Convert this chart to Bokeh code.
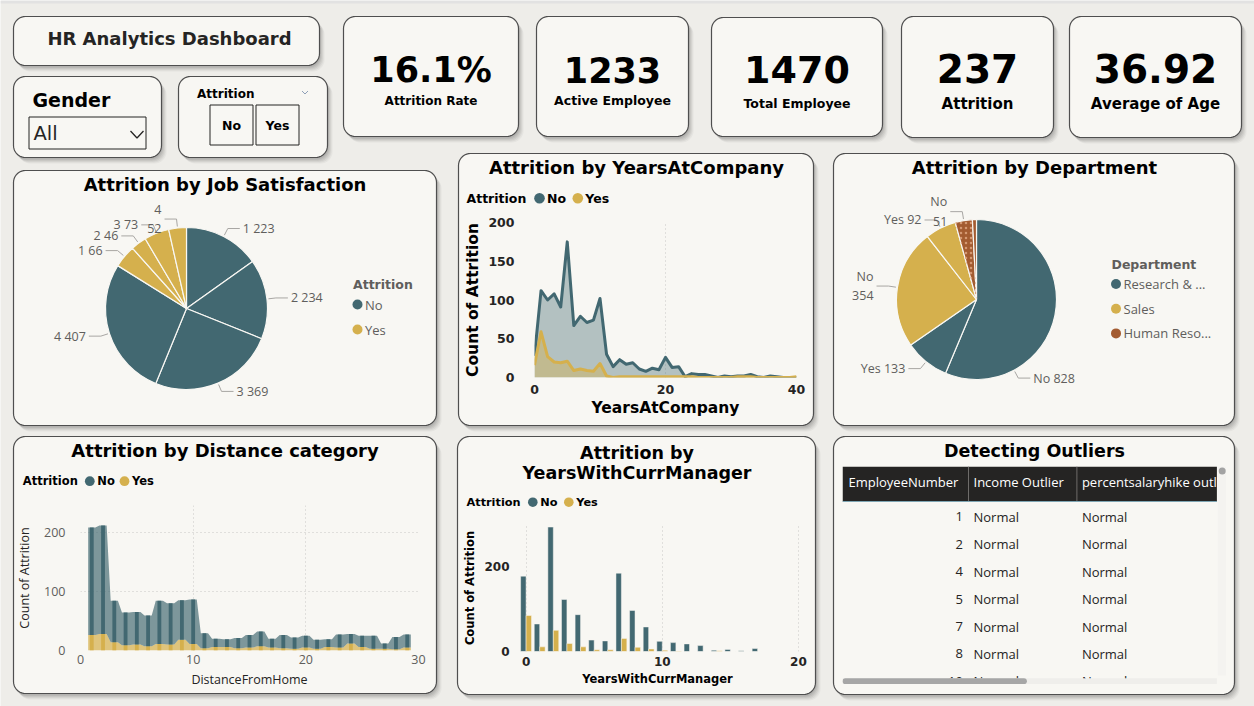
import math
from bokeh.plotting import figure
from bokeh.models import Range1d, ColumnDataSource
from bokeh.layouts import column
from bokeh.core.properties import value
from bokeh.transform import dodge
from bokeh.embed import file_html
from bokeh.resources import INLINE

W, H = 1254, 706
PAGE = "#EEEDE9"
CARD = "#F8F7F3"
EDGE = "#4F4F4F"
INK = "#252423"
GRAY = "#605E5C"
LEADER = "#A8A6A3"
TEAL = "#426871"
GOLD = "#D5B04D"
BROWN = "#A35B30"
GRID = "#C8C6C4"
SANS = "DejaVu Sans"
UI = "Open Sans"

# ---------------- data ----------------
kpi_values = ["16.1%", "1233", "1470", "237", "36.92"]
kpi_labels = ["Attrition Rate", "Active Employee", "Total Employee", "Attrition", "Average of Age"]

job_levels = ["1", "2", "3", "4"]
job_no = [223, 234, 369, 407]
job_yes = [66, 46, 73, 52]

dept_names = ["Research & Development", "Sales", "Human Resources"]
dept_short = ["Research & ...", "Sales", "Human Reso..."]
dept_no = [828, 354, 51]
dept_yes = [133, 92, 12]

yac_years = list(range(0, 41))
yac_no = [28, 112, 100, 108, 91, 175, 67, 79, 71, 74, 102, 30, 14, 23, 17, 19, 11, 8, 12, 10,
          26, 13, 14, 1, 5, 4, 4, 2, 0, 2, 1, 2, 2, 4, 1, 0, 2, 1, 0, 0, 0]
yac_yes = [16, 59, 27, 20, 19, 21, 9, 11, 9, 8, 18, 2, 0, 1, 1, 1, 1, 1, 1, 1,
           1, 1, 1, 1, 1, 0, 0, 0, 0, 0, 0, 1, 1, 1, 0, 0, 0, 0, 0, 0, 1]

distance = list(range(1, 30))
dist_yes = [26, 28, 14, 9, 10, 7, 11, 10, 18, 11, 4, 6, 6, 4, 5, 7, 5, 4, 3, 5,
            3, 6, 5, 12, 6, 3, 3, 2, 5]
dist_no = [182, 183, 70, 55, 55, 52, 73, 70, 67, 75, 25, 14, 13, 17, 21, 25, 15, 22, 19, 20,
           15, 13, 22, 16, 19, 22, 9, 21, 22]

mgr_years = list(range(0, 18))
mgr_no = [178, 65, 294, 123, 87, 27, 25, 185, 97, 58, 24, 21, 18, 14, 3, 5, 2, 7]
mgr_yes = [85, 11, 50, 19, 11, 4, 4, 31, 10, 6, 3, 1, 0, 0, 2, 0, 0, 0]

table_headers = ["EmployeeNumber", "Income Outlier", "percentsalaryhike outlier"]
emp_numbers = [1, 2, 4, 5, 7, 8, 10]
income_outlier = ["Normal"] * 7
hike_outlier = ["Normal"] * 7


# ---------------- helpers ----------------
def rrect(x0, y0, x1, y1, r=12, n=10):
    xs, ys = [], []
    for cx, cy, a0 in ((x1 - r, y0 + r, -90), (x1 - r, y1 - r, 0),
                       (x0 + r, y1 - r, 90), (x0 + r, y0 + r, 180)):
        for k in range(n + 1):
            a = math.radians(a0 + 90 * k / n)
            xs.append(cx + r * math.cos(a))
            ys.append(cy + r * math.sin(a))
    return xs, ys


def placed(x0, y0, w, h, **kw):
    p = figure(width=w, height=h, output_backend="svg", toolbar_location=None,
               background_fill_alpha=0, border_fill_alpha=0, outline_line_color=None,
               styles={"position": "absolute", "left": f"{x0}px", "top": f"{y0}px"}, **kw)
    p.frame_align = False
    return p


# ---------------- background page with cards ----------------
bg = figure(width=W, height=H, x_range=Range1d(0, W), y_range=Range1d(H, 0),
            x_axis_type=None, y_axis_type=None, output_backend="svg", toolbar_location=None,
            min_border=0, outline_line_color=None, background_fill_color=PAGE,
            border_fill_color=PAGE,
            styles={"position": "absolute", "left": "0px", "top": "0px"})
bg.frame_align = False
bg.quad(left=0, right=W, top=0, bottom=3, fill_color="#E2E2E2", line_color=None)


def txt(x, y, s, size, bold=False, color=INK, align="center", font=SANS):
    bg.text(x=[x], y=[y], text=[s], text_font=value(font), text_font_size=f"{size}px",
            text_font_style="bold" if bold else "normal", text_color=color,
            text_align=align, text_baseline="middle")


cards = [
    (13, 16, 319, 65), (13, 76, 161, 157), (178, 76, 327, 157),
    (343, 16, 518, 136), (536, 16, 688, 136), (711, 17, 882, 136),
    (901, 16, 1053, 137), (1069, 16, 1241, 137),
    (13, 170, 436, 425), (458, 153, 813, 425), (833, 153, 1234, 425),
    (13, 436, 436, 693), (457, 436, 815, 694), (833, 436, 1234, 694),
]
for (x0, y0, x1, y1) in cards:
    for dx, dy, a in ((5, 6, 0.07), (4, 5, 0.09), (3, 4, 0.11), (2, 3, 0.13), (1, 2, 0.15)):
        xs, ys = rrect(x0 + dx, y0 + dy, x1 + dx, y1 + dy)
        bg.patch(xs, ys, fill_color="#6E6E6E", fill_alpha=a, line_color=None)
for (x0, y0, x1, y1) in cards:
    xs, ys = rrect(x0, y0, x1, y1)
    bg.patch(xs, ys, fill_color=CARD, line_color=EDGE, line_width=1.2)

# title and slicers
txt(169, 37.5, "HR Analytics Dashboard", 18, bold=True)
txt(32, 99.2, "Gender", 19, bold=True, color="#000000", align="left")
bg.quad(left=28.5, right=145.5, top=116.5, bottom=148.5, fill_color=None, line_color=INK, line_width=1)
txt(33, 133.4, "All", 19.5, align="left")
bg.line([130, 136.5, 143], [130.5, 137.5, 130.5], line_color=INK, line_width=1.3)
txt(196.5, 93.7, "Attrition", 12, bold=True, color="#000000", align="left")
bg.line([301.5, 304.5, 307.5], [90.5, 93.5, 90.5], line_color="#8FA0B8", line_width=1)
for bx0, bx1, s in ((209.5, 252.5, "No"), (255.5, 298.5, "Yes")):
    bg.quad(left=bx0, right=bx1, top=104.5, bottom=144.5, fill_color=None, line_color=INK, line_width=1)
    txt((bx0 + bx1) / 2, 124.7, s, 12.5, bold=True, color="#000000")

# KPI cards
kpi_boxes = cards[3:8]
kpi_num_size = [35, 35, 38, 39, 39]
kpi_num_mid = [69.5, 69.5, 69.2, 68, 68]
kpi_lab_size = [12, 12.5, 12.5, 15, 15]
kpi_lab_mid = [100, 100, 103.3, 103, 103]
for i, (x0, y0, x1, y1) in enumerate(kpi_boxes):
    cx = (x0 + x1) / 2
    txt(cx, kpi_num_mid[i], kpi_values[i], kpi_num_size[i], bold=True, color="#000000")
    txt(cx, kpi_lab_mid[i], kpi_labels[i], kpi_lab_size[i], bold=True, color="#000000")

# chart titles
txt(224.5, 184.3, "Attrition by Job Satisfaction", 18, bold=True, color="#000000")
txt(1034, 167, "Attrition by Department", 18, bold=True, color="#000000")
txt(636, 167, "Attrition by YearsAtCompany", 18, bold=True, color="#000000")
txt(224.5, 450.3, "Attrition by Distance category", 18, bold=True, color="#000000")
txt(636.5, 452.3, "Attrition by", 17.5, bold=True, color="#000000")
txt(636.5, 472.7, "YearsWithCurrManager", 17.5, bold=True, color="#000000")
txt(1034, 450, "Detecting Outliers", 17.5, bold=True, color="#000000")


# legends
def vlegend(x, y0, title, names, colors, first, step):
    txt(x, y0, title, 12.5, bold=True, color=GRAY, align="left")
    ys = [y0 + first + step * k for k in range(len(names))]
    bg.scatter(x=[x + 4.5] * len(names), y=ys, size=10, fill_color=colors, line_color=None)
    bg.text(x=[x + 12] * len(names), y=ys, text=names, text_font=value(UI), text_font_size="13px",
            text_color=GRAY, text_align="left", text_baseline="middle")


def hlegend(x, y, size, dots, gaps):
    txt(x, y, "Attrition", size, bold=True, color="#000000", align="left")
    for (dx, col, name) in zip(dots, (TEAL, GOLD), ("No", "Yes")):
        bg.scatter(x=[dx], y=[y], size=size * 0.85, fill_color=col, line_color=None)
        txt(dx + gaps, y, name, size, bold=True, color="#000000", align="left")


vlegend(352.5, 284, "Attrition", ["No", "Yes"], [TEAL, GOLD], 20, 25)
vlegend(1111, 263.5, "Department", dept_short, [TEAL, GOLD, BROWN], 20, 24.7)
hlegend(466, 197.7, 12.5, (539, 577.3), 7.5)
hlegend(22.3, 480.7, 11.5, (89.3, 124), 7.5)
hlegend(466, 501.7, 11.3, (532.3, 568.3), 7.5)


# ---------------- pie helper ----------------
def draw_pie(p, values, colors, labels, radius, wrap=(), angle_override=None, min_frac=0.02):
    total = float(sum(values))
    starts, ends, mids = [], [], []
    cum = 0
    for v in values:
        a0 = cum / total * 2 * math.pi
        cum += v
        a1 = cum / total * 2 * math.pi
        starts.append(math.pi / 2 - a0)
        ends.append(math.pi / 2 - a1)
        mids.append((a0 + a1) / 2)
    src = ColumnDataSource(dict(start=starts, end=ends, color=colors, value=values))
    p.wedge(x=0, y=0, radius=radius, start_angle="start", end_angle="end", direction="clock",
            fill_color="color", line_color=CARD, line_width=1.2, source=src)
    lines_x, lines_y = [], []
    sides = {1: ([], [], []), -1: ([], [], [])}
    for i, (v, m, s) in enumerate(zip(values, mids, labels)):
        if v / total < min_frac:
            continue
        if angle_override and i in angle_override:
            m = math.radians(angle_override[i])
        side = 1 if math.sin(m) >= 0 else -1
        sx, sy = (radius + 1.5) * math.sin(m), (radius + 1.5) * math.cos(m)
        ex, ey = (radius + 9) * math.sin(m), (radius + 9) * math.cos(m)
        hx = ex + side * 12
        lines_x.append([sx, ex, hx])
        lines_y.append([sy, ey, ey])
        bx, by, bt = sides[side]
        bx.append(hx + side * 3)
        by.append(ey)
        bt.append(s.replace(" ", "\n") if i in wrap else s)
    p.multi_line(lines_x, lines_y, line_color=LEADER, line_width=1)
    for side, (bx, by, bt) in sides.items():
        if bx:
            p.text(x=bx, y=by, text=bt, text_font=value(UI), text_font_size="12.5px",
                   text_color=GRAY, text_align="left" if side > 0 else "right",
                   text_baseline="middle", text_line_height=1.15)
    return starts, ends


def pie_fig(x0, y0, x1, y1, cx, cy):
    return placed(x0, y0, x1 - x0, y1 - y0, x_range=Range1d(x0 - cx, x1 - cx),
                  y_range=Range1d(cy - y1, cy - y0), x_axis_type=None, y_axis_type=None,
                  min_border=0)


# Job satisfaction pie: No slices by level, then Yes slices by level
job_vals = job_no + job_yes
job_cols = [TEAL] * len(job_no) + [GOLD] * len(job_yes)
job_text = [f"{l} {v}" for l, v in zip(job_levels, job_no)] + \
           [f"{l} {v}" for l, v in zip(job_levels, job_yes)]
pj = pie_fig(18, 195, 345, 420, 186, 308)
draw_pie(pj, job_vals, job_cols, job_text, 81, wrap={7})

# Department pie: each department's No then Yes
dept_vals, dept_cols, dept_text = [], [], []
for n, y, c in zip(dept_no, dept_yes, (TEAL, GOLD, BROWN)):
    dept_vals += [n, y]
    dept_cols += [c, c]
    dept_text += [f"No {n}", f"Yes {y}"]
pd_ = pie_fig(838, 185, 1108, 420, 976, 299)
st, en = draw_pie(pd_, dept_vals, dept_cols, dept_text, 80, wrap={2, 4}, angle_override={0: 152})
pd_.wedge(x=0, y=0, radius=80, start_angle=st[4], end_angle=en[4], direction="clock",
          fill_alpha=0, line_color=None, hatch_pattern=".", hatch_color="#D9A079",
          hatch_scale=5, hatch_alpha=0.9)


# ---------------- axis styling ----------------
def style_axes(p, tick_size, tick_bold, tick_color, tick_font, title_size, title_bold,
               title_color, title_font):
    for ax in p.axis:
        ax.axis_line_color = None
        ax.major_tick_line_color = None
        ax.minor_tick_line_color = None
        ax.major_tick_out = 0
        ax.major_tick_in = 0
        ax.major_label_text_font = tick_font
        ax.major_label_text_font_size = f"{tick_size}px"
        ax.major_label_text_font_style = "bold" if tick_bold else "normal"
        ax.major_label_text_color = tick_color
        ax.axis_label_text_font = title_font
        ax.axis_label_text_font_size = f"{title_size}px"
        ax.axis_label_text_font_style = "bold" if title_bold else "normal"
        ax.axis_label_text_color = title_color


# ---------------- YearsAtCompany area chart ----------------
pa = placed(458, 205, 352, 220, x_range=Range1d(0, 40), y_range=Range1d(0, 200),
            min_border_left=76, min_border_right=14, min_border_top=17, min_border_bottom=48)
pa.varea(x=yac_years, y1=0, y2=yac_no, fill_color=TEAL, fill_alpha=0.38)
pa.line(yac_years, yac_no, line_color=TEAL, line_width=3, line_join="round")
pa.varea(x=yac_years, y1=0, y2=yac_yes, fill_color=GOLD, fill_alpha=0.42)
pa.line(yac_years, yac_yes, line_color=GOLD, line_width=3, line_join="round")
pa.xaxis.ticker = [0, 20, 40]
pa.yaxis.ticker = [0, 50, 100, 150, 200]
pa.xaxis.axis_label = "YearsAtCompany"
pa.yaxis.axis_label = "Count of Attrition"
style_axes(pa, 12.5, True, INK, SANS, 15.5, True, "#000000", SANS)
pa.yaxis.major_label_standoff = 20
pa.yaxis.axis_label_standoff = 3
pa.xaxis.major_label_standoff = 7
pa.xaxis.axis_label_standoff = 2
pa.xgrid.grid_line_color = GRID
pa.xgrid.grid_line_dash = "1 3"
pa.ygrid.grid_line_color = None

# ---------------- Distance ribbon chart ----------------
pdist = placed(13, 495, 417, 195, x_range=Range1d(0, 30), y_range=Range1d(0, 245),
               min_border_left=65, min_border_right=12, min_border_top=10, min_border_bottom=39)
dist_total = [y + n for y, n in zip(dist_yes, dist_no)]
flat = 0.32
rib_x, rib_yes, rib_tot = [], [], []
for d, y, t in zip(distance, dist_yes, dist_total):
    rib_x += [d - flat, d + flat]
    rib_yes += [y, y]
    rib_tot += [t, t]
pdist.varea(x=rib_x, y1=0, y2=rib_yes, fill_color=GOLD, fill_alpha=0.72)
pdist.varea(x=rib_x, y1=rib_yes, y2=rib_tot, fill_color=TEAL, fill_alpha=0.68)
pdist.vbar(x=distance, width=0.34, bottom=0, top=dist_yes, fill_color=GOLD, line_color=None)
pdist.vbar(x=distance, width=0.34, bottom=dist_yes, top=dist_total, fill_color=TEAL, line_color=None)
pdist.xaxis.ticker = [0, 10, 20, 30]
pdist.yaxis.ticker = [0, 100, 200]
pdist.xaxis.axis_label = "DistanceFromHome"
pdist.yaxis.axis_label = "Count of Attrition"
style_axes(pdist, 12.5, False, GRAY, UI, 12.5, False, INK, UI)
pdist.yaxis.major_label_standoff = 15
pdist.yaxis.axis_label_standoff = 8
pdist.xaxis.major_label_standoff = 4
pdist.xaxis.axis_label_standoff = 4
for g in (pdist.xgrid, pdist.ygrid):
    g.grid_line_color = GRID
    g.grid_line_dash = "1 3"

# ---------------- YearsWithCurrManager clustered bars ----------------
pm = placed(458, 515, 352, 175, x_range=Range1d(-0.85, 20.15), y_range=Range1d(0, 300),
            min_border_left=56, min_border_right=10, min_border_top=9, min_border_bottom=39)
msrc = ColumnDataSource(dict(x=mgr_years, no=mgr_no, yes=mgr_yes))
pm.vbar(x=dodge("x", -0.2), width=0.4, top="no", source=msrc, fill_color=TEAL,
        line_color=CARD, line_width=0.5)
pm.vbar(x=dodge("x", 0.2), width=0.4, top="yes", source=msrc, fill_color=GOLD,
        line_color=CARD, line_width=0.5)
pm.xaxis.ticker = [0, 10, 20]
pm.yaxis.ticker = [0, 200]
pm.xaxis.axis_label = "YearsWithCurrManager"
pm.yaxis.axis_label = "Count of Attrition"
style_axes(pm, 12, True, INK, SANS, 11.5, True, "#000000", SANS)
pm.yaxis.major_label_standoff = 5
pm.yaxis.axis_label_standoff = 4
pm.xaxis.major_label_standoff = 5
pm.xaxis.axis_label_standoff = 3
pm.xgrid.grid_line_color = GRID
pm.xgrid.grid_line_dash = "1 3"
pm.ygrid.grid_line_color = None

# ---------------- Outlier table ----------------
pt = placed(842, 466, 384, 218, x_range=Range1d(0, 384), y_range=Range1d(218, 0),
            x_axis_type=None, y_axis_type=None, min_border=0)
col_left = [6, 131, 239.4]
pt.quad(left=0, right=374.4, top=0, bottom=35, fill_color=INK, line_color=None)
pt.segment(x0=[126, 234.4], y0=[0, 0], x1=[126, 234.4], y1=[35, 35], line_color="#6E6C6A", line_width=1)
pt.line([0, 374.4], [35, 35], line_color="#7FA6B4", line_width=1)
pt.text(x=col_left, y=[15] * 3, text=table_headers, text_font=value(UI), text_font_size="13px",
        text_color="#FFFFFF", text_align="left", text_baseline="middle")
row_y = [50.4 + 27.4 * i for i in range(len(emp_numbers))]
tsrc = ColumnDataSource(dict(y=row_y, num=[str(n) for n in emp_numbers],
                             inc=income_outlier, hike=hike_outlier))
pt.text(x=120.4, y="y", text="num", source=tsrc, text_font=value(UI), text_font_size="13px",
        text_color=INK, text_align="right", text_baseline="middle")
pt.text(x=col_left[1], y="y", text="inc", source=tsrc, text_font=value(UI), text_font_size="13px",
        text_color=INK, text_align="left", text_baseline="middle")
pt.text(x=col_left[2], y="y", text="hike", source=tsrc, text_font=value(UI), text_font_size="13px",
        text_color=INK, text_align="left", text_baseline="middle")
# scrollbars
pt.quad(left=375.4, right=384, top=0, bottom=209, fill_color="#F4F3F0", line_color=None)
pt.scatter(x=[379.7], y=[4.5], size=7, fill_color="#A3A3A3", line_color=None)
pt.quad(left=0, right=374.4, top=211.7, bottom=217.7, fill_color="#EFEEEB", line_color=None)
pt.line([3, 181.4], [214.7, 214.7], line_color="#A6A6A6", line_width=6, line_cap="round")

page = column(bg, pj, pd_, pa, pdist, pm, pt, width=W, height=H,
              styles={"position": "relative", "margin": "0px", "padding": "0px"})

open("out.html", "w").write(file_html(page, INLINE))
